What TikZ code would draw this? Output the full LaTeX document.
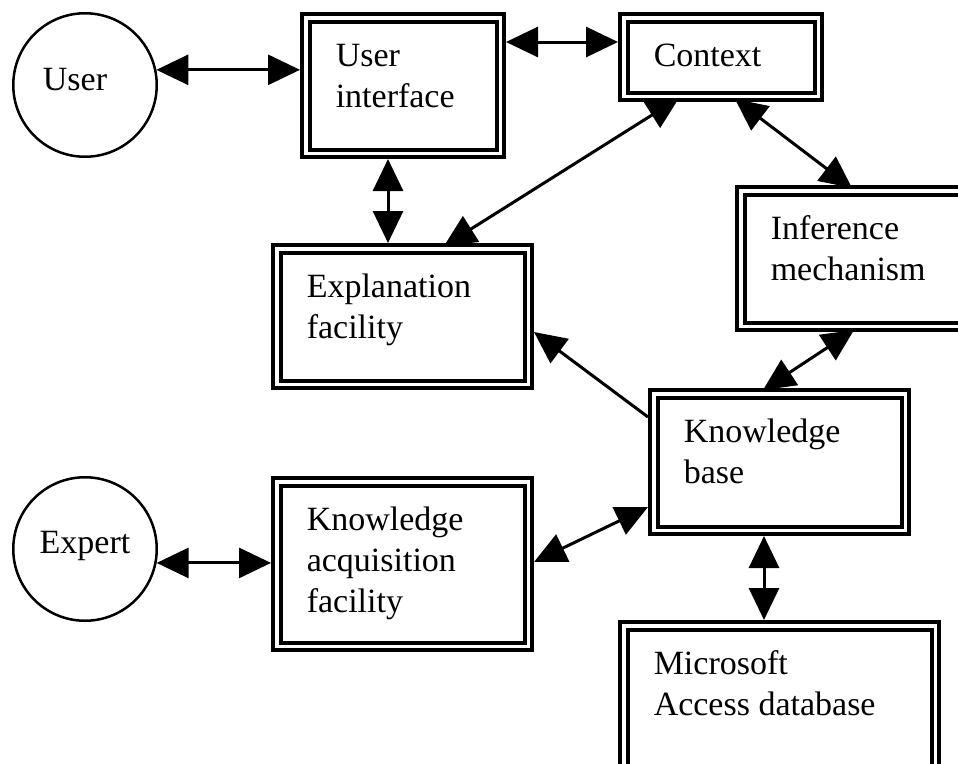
\documentclass[tikz,border=0pt]{standalone}
\usepackage{fontspec}
\setmainfont{Liberation Serif}
\usetikzlibrary{arrows.meta,backgrounds}
\newcommand{\bxt}[3]{\parbox[c][#2][t]{#1}{\raggedright\leftskip=30pt\rule{0pt}{48.3pt}#3}}
\begin{document}
\begin{tikzpicture}[x=1pt,y=-1pt,
  kbox/.style={draw, line width=4pt, double=white, double distance=3.5pt, fill=white,
    inner sep=0pt, outer sep=5.75pt, font=\fontsize{34}{41}\selectfont},
  actor/.style={draw, circle, line width=2.5pt, fill=white, inner sep=0pt,
    minimum size=143.5pt, font=\fontsize{34}{41}\selectfont},
  conn/.style={line width=3pt, >={Triangle[length=32pt,width=30pt]}, <->},
  oneway/.style={line width=3pt, >={Triangle[length=32pt,width=30pt]}, ->}]
\useasboundingbox (0,0) rectangle (958,763);
\clip (0,0) rectangle (958,763);

\node[kbox] (ui) at (403,85.5) {\bxt{194.5pt}{135.5pt}{User\\interface}};
\node[kbox] (ctx) at (721,57) {\bxt{194.5pt}{78.5pt}{Context}};
\node[kbox] (inf) at (857.5,258.5) {\bxt{233.5pt}{135.5pt}{Inference\\mechanism}};
\node[kbox] (expl) at (402.5,316.5) {\bxt{251.5pt}{135.5pt}{Explanation\\facility}};
\node[kbox] (kb) at (779.5,462) {\bxt{251.5pt}{136.5pt}{Knowledge\\base}};
\node[kbox] (ka) at (402.5,564) {\bxt{251.5pt}{164.5pt}{Knowledge\\acquisition\\facility}};
\node[kbox] (ms) at (779.5,700) {\bxt{311.5pt}{148.5pt}{Microsoft\\Access database}};
\node[actor, text height=20pt, text depth=10pt] (user) at (85,85) {\hspace*{-20pt}User};
\node[actor, text height=18pt, text depth=10pt] (expert) at (85,549) {Expert};

\begin{pgfonlayer}{background}
  \draw[conn] (user.12) -- (user.12 -| ui.west);
  \coordinate (a1) at ([yshift=-30pt]ui.north east);
  \draw[conn] (a1) -- (a1 -| ctx.west);
  \coordinate (a2) at ([xshift=88pt]ui.south west);
  \draw[conn] (a2) -- (a2 |- expl.north);
  \draw[conn] ([shift={(61,-4)}]ctx.south west) -- ([shift={(173,3)}]expl.north west);
  \draw[conn] ([shift={(117,-3)}]ctx.south west) -- ([shift={(117,3)}]inf.north west);
  \draw[conn] ([shift={(119,-2)}]inf.south west) -- ([shift={(115,2)}]kb.north west);
  \draw[oneway] ([shift={(0,29)}]kb.north west) -- ([shift={(0,89)}]expl.north east);
  \draw[conn] ([shift={(0,-29)}]kb.south west) -- ([shift={(0,86)}]ka.north east);
  \coordinate (a3) at ([xshift=116pt]kb.south west);
  \draw[conn] (a3) -- (a3 |- ms.north);
  \draw[conn] (expert.-11) -- (expert.-11 -| ka.west);
\end{pgfonlayer}
\end{tikzpicture}
\end{document}
